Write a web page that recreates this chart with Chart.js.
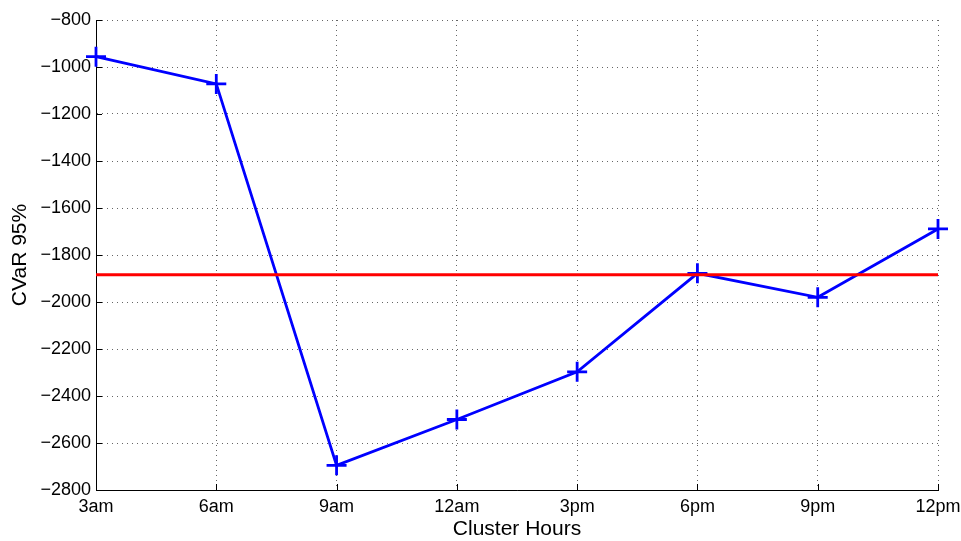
<!DOCTYPE html>
<html lang="en">
<head>
    <meta charset="UTF-8">
    <title>CVaR 95% by Cluster Hours</title>
    <script src="https://cdn.jsdelivr.net/npm/chart.js"></script>
    <style>
        body, html {
            margin: 0;
            padding: 0;
            background-color: #ffffff;
        }
        #wrap {
            width: 961px;
            height: 541px;
        }
    </style>
</head>
<body>
    <div id="wrap"><canvas id="chart" width="961" height="541"></canvas></div>
    <script>
        // values
        const hours = ['3am', '6am', '9am', '12am', '3pm', '6pm', '9pm', '12pm'];
        const cvar95 = [-956, -1072, -2695, -2500, -2297, -1878, -1980, -1689];
        const threshold = -1884; // red reference line
        const yMin = -2800;
        const yMax = -800;
        const yStep = 200;

        const FONT = 'Liberation Sans, Helvetica, Arial, sans-serif';

        // small inward tick marks on left and bottom axes, like matlab
        const innerTicks = {
            id: 'innerTicks',
            afterDraw(chart) {
                const { ctx, chartArea, scales } = chart;
                ctx.save();
                ctx.strokeStyle = '#000';
                ctx.lineWidth = 1;
                ctx.beginPath();
                scales.y.ticks.forEach(t => {
                    const y = Math.round(scales.y.getPixelForValue(t.value)) + 0.5;
                    ctx.moveTo(chartArea.left, y);
                    ctx.lineTo(chartArea.left + 6, y);
                });
                hours.forEach((h, i) => {
                    const x = Math.round(scales.x.getPixelForValue(i)) + 0.5;
                    ctx.moveTo(x, chartArea.bottom);
                    ctx.lineTo(x, chartArea.bottom - 6);
                });
                ctx.stroke();
                ctx.restore();
            }
        };

        new Chart(document.getElementById('chart'), {
            type: 'line',
            data: {
                labels: hours,
                datasets: [
                    {
                        label: 'threshold',
                        data: hours.map(() => threshold),
                        borderColor: '#ff0000',
                        borderWidth: 2.8,
                        pointRadius: 0,
                        fill: false,
                        order: 0
                    },
                    {
                        label: 'CVaR 95%',
                        data: cvar95,
                        borderColor: '#0000ff',
                        borderWidth: 2.8,
                        pointStyle: 'cross',
                        pointRadius: 10,
                        pointBorderWidth: 2.8,
                        pointBorderColor: '#0000ff',
                        fill: false,
                        tension: 0,
                        order: 1
                    }
                ]
            },
            options: {
                responsive: false,
                animation: false,
                layout: {
                    padding: { left: 8, right: 23, top: 20, bottom: 0 }
                },
                plugins: {
                    legend: { display: false },
                    tooltip: { enabled: false }
                },
                scales: {
                    x: {
                        offset: false,
                        afterFit(scale) {
                            scale.height = 51;
                            scale.paddingLeft = 0;
                            scale.paddingRight = 0;
                        },
                        grid: {
                            color: '#666',
                            lineWidth: 1,
                            drawTicks: false
                        },
                        border: { display: true, color: '#000', width: 1, dash: [1, 4] },
                        ticks: {
                            color: '#000',
                            padding: 6,
                            maxRotation: 0,
                            font: { family: FONT, size: 18 }
                        },
                        title: {
                            display: true,
                            text: 'Cluster Hours',
                            color: '#000',
                            padding: { top: 0, bottom: 1 },
                            font: { family: FONT, size: 21, lineHeight: 1 }
                        }
                    },
                    y: {
                        min: yMin,
                        max: yMax,
                        afterFit(scale) { scale.width = 88; },
                        grid: {
                            color: '#666',
                            lineWidth: 1,
                            drawTicks: false
                        },
                        border: { display: true, color: '#000', width: 1, dash: [1, 4] },
                        ticks: {
                            stepSize: yStep,
                            color: '#000',
                            padding: 5,
                            font: { family: FONT, size: 18 },
                            callback: v => String(v).replace('-', '\u2212')
                        },
                        title: {
                            display: true,
                            text: 'CVaR 95%',
                            color: '#000',
                            padding: { top: 0, bottom: 0 },
                            font: { family: FONT, size: 21 }
                        }
                    }
                }
            },
            plugins: [innerTicks]
        });
    </script>
</body>
</html>
